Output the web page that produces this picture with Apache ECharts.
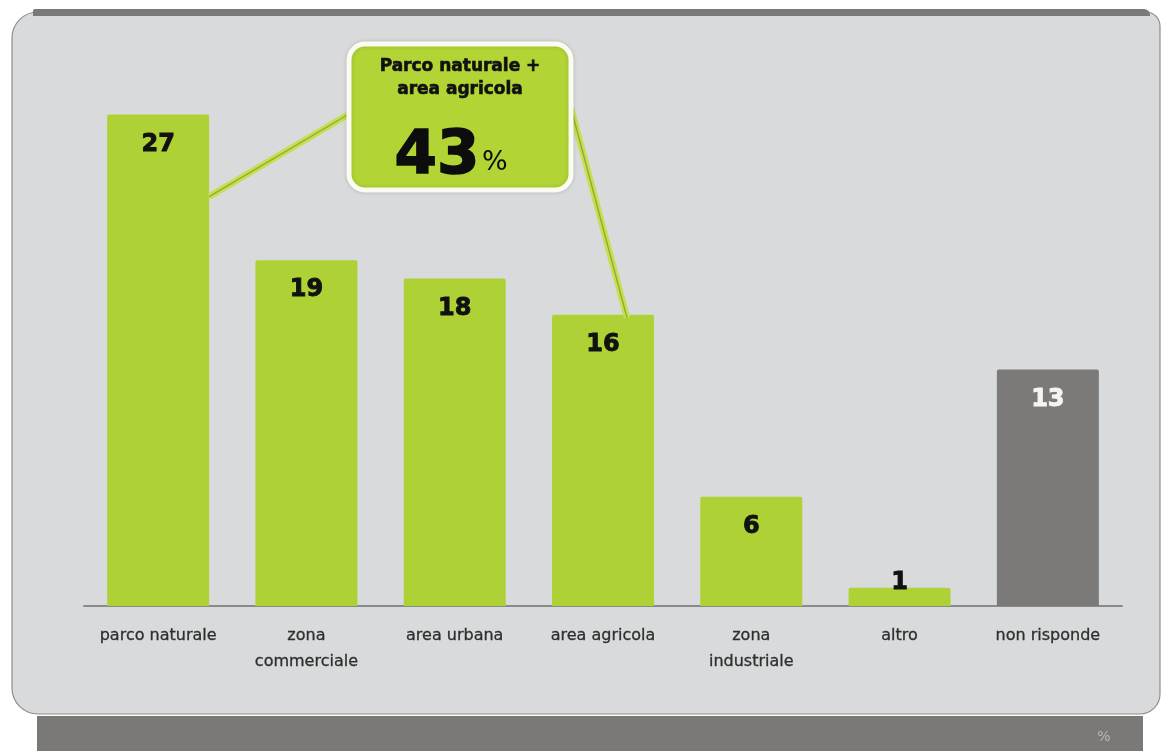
<!DOCTYPE html>
<html>
<head>
<meta charset="utf-8">
<script src="https://cdn.jsdelivr.net/npm/echarts@6/dist/echarts.min.js"></script>
<style>
  html, body { margin: 0; padding: 0; background: #ffffff; }
  #chart { width: 1163px; height: 751px; }
</style>
</head>
<body>
<div id="chart"></div>
<script>
// Destinazione preferita per l'area (valori in %)
const categories = ['parco naturale', 'zona\ncommerciale', 'area urbana', 'area agricola', 'zona\nindustriale', 'altro', 'non risponde'];
const values = [27, 19, 18, 16, 6, 1, 13];
const calloutCategories = ['parco naturale', 'area agricola'];
const calloutTitle = ['Parco naturale +', 'area agricola'];
const unitLabel = '%';

const GREEN = '#aed136';
const GRAY = '#7b7a78';
const BOX_GREEN = '#b2d435';

const calloutIdx = calloutCategories.map(c => categories.indexOf(c));
const calloutTotal = calloutIdx.reduce((s, i) => s + values[i], 0);

const seriesData = values.map((v, i) => {
  const isNoAnswer = categories[i] === 'non risponde';
  const small = v < 3;
  const ink = isNoAnswer ? '#f4f4f4' : '#111111';
  return {
    value: v,
    itemStyle: { color: isNoAnswer ? GRAY : GREEN },
    label: {
      position: small ? 'top' : 'insideTop',
      distance: small ? -7 : 18,
      color: ink,
      textBorderColor: ink,
      textBorderWidth: 0.9
    }
  };
});

const chart = echarts.init(document.getElementById('chart'), null, { renderer: 'canvas' });

// Frame: light panel, dark strip on top, footer band with unit
const frame = [
  {
    type: 'rect', z: -10, silent: true,
    shape: { x: 12, y: 12, width: 1148, height: 702, r: [26, 14, 20, 26] },
    style: { fill: '#d9dadb', stroke: '#8e8e8e', lineWidth: 1.2 }
  },
  {
    type: 'rect', z: -9, silent: true,
    shape: { x: 33, y: 9, width: 1117, height: 7, r: [2, 6, 0, 0] },
    style: { fill: '#7a7978' }
  },
  {
    type: 'rect', z: -9, silent: true,
    shape: { x: 37, y: 716, width: 1106, height: 35 },
    style: { fill: '#7a7977' }
  },
  {
    type: 'text', z: -8, silent: true,
    style: { x: 1104, y: 737, text: unitLabel, fill: '#b9b9b9', font: '14px "DejaVu Sans"', align: 'center', verticalAlign: 'middle' }
  }
];

chart.setOption({
  backgroundColor: '#ffffff',
  animation: false,
  grid: { left: 84, right: 41, top: 60, bottom: 145 },
  xAxis: {
    type: 'category',
    data: categories,
    axisLine: { show: true, lineStyle: { color: '#8a8a8a', width: 2 } },
    axisTick: { show: false },
    axisLabel: {
      interval: 0,
      margin: 17,
      color: '#2e2e2e',
      fontFamily: 'DejaVu Sans',
      fontSize: 16,
      lineHeight: 26,
      align: 'center',
      textBorderColor: '#2e2e2e',
      textBorderWidth: 0.3
    }
  },
  yAxis: {
    type: 'value',
    min: 0,
    max: 30,
    show: false,
    splitLine: { show: false }
  },
  series: [{
    type: 'bar',
    data: seriesData,
    barWidth: 102,
    itemStyle: { borderRadius: [2, 2, 0, 0] },
    label: {
      show: true,
      fontFamily: 'DejaVu Sans',
      fontWeight: 'bold',
      fontSize: 24
    }
  }],
  graphic: frame
});

// Callout linking the two categories to their combined share
const box = { x: 349, y: 44, w: 222, h: 146 };
const barHalf = 51;
const p1 = chart.convertToPixel({ seriesIndex: 0 }, [calloutIdx[0], values[calloutIdx[0]]]);
const p2 = chart.convertToPixel({ seriesIndex: 0 }, [calloutIdx[1], values[calloutIdx[1]]]);
const leftStart = [box.x, box.y + 70];
const leftEnd = [p1[0] + barHalf, p1[1] + 82];
const rightStart = [box.x + box.w, box.y + 64];
const rightEnd = [p2[0] + 24, p2[1] + 3];

function connector(a, b) {
  return [
    { type: 'line', z: 5, silent: true, shape: { x1: a[0], y1: a[1], x2: b[0], y2: b[1] }, style: { stroke: '#c3df52', lineWidth: 6.5 } },
    { type: 'line', z: 6, silent: true, shape: { x1: a[0], y1: a[1], x2: b[0], y2: b[1] }, style: { stroke: '#93ad2e', lineWidth: 1.4 } }
  ];
}

chart.setOption({
  graphic: frame.concat(
    connector(leftStart, leftEnd),
    connector(rightStart, rightEnd),
    [
      {
        type: 'rect', z: 10, silent: true,
        shape: { x: box.x, y: box.y, width: box.w, height: box.h, r: 16 },
        style: { fill: BOX_GREEN, stroke: '#fbfbf2', lineWidth: 5, shadowBlur: 4, shadowColor: 'rgba(0,0,0,0.15)' }
      },
      {
        type: 'text', z: 11, silent: true,
        style: {
          x: box.x + box.w / 2, y: box.y + 11,
          text: calloutTitle.join('\n'),
          fill: '#111111',
          font: 'bold 17px "DejaVu Sans"',
          lineHeight: 23,
          align: 'center', verticalAlign: 'top',
          stroke: '#111111', lineWidth: 0.6
        }
      },
      {
        type: 'text', z: 11, silent: true,
        style: {
          x: box.x + 88, y: box.y + 113,
          text: calloutTotal,
          fill: '#0d0d0d',
          font: 'bold 61px "DejaVu Sans"',
          align: 'center', verticalAlign: 'middle',
          stroke: '#0d0d0d', lineWidth: 1.6
        }
      },
      {
        type: 'text', z: 11, silent: true,
        style: {
          x: box.x + 133, y: box.y + 119,
          text: unitLabel,
          fill: '#0d0d0d',
          font: '27px "DejaVu Sans"',
          align: 'left', verticalAlign: 'middle'
        }
      }
    ]
  )
});
</script>
</body>
</html>
